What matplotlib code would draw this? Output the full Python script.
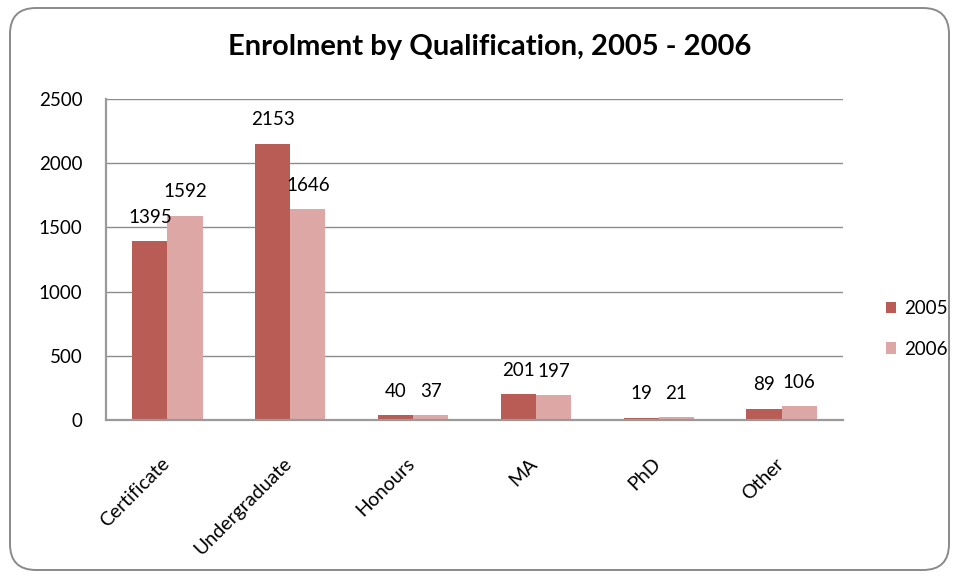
import matplotlib
matplotlib.use("Agg")
import matplotlib.pyplot as plt
import matplotlib.transforms as mtransforms
from matplotlib.patches import FancyBboxPatch
import numpy as np

plt.rcParams['font.family'] = ['Lato', 'DejaVu Sans']

categories = ["Certificate", "Undergraduate", "Honours", "MA", "PhD", "Other"]
years = ["2005", "2006"]
enrol_2005 = [1395, 2153, 40, 201, 19, 89]
enrol_2006 = [1592, 1646, 37, 197, 21, 106]
yticks = [0, 500, 1000, 1500, 2000, 2500]

color_2005 = "#BA5C56"
color_2006 = "#DCA7A4"
grid_color = "#8C8C8C"

W, H = 959, 578
fig = plt.figure(figsize=(W / 100, H / 100), dpi=100)

# rounded chart frame, in pixel coordinates
frame = FancyBboxPatch((10, 8), 939, 562, boxstyle="round,pad=0,rounding_size=26",
                       transform=mtransforms.IdentityTransform(),
                       facecolor="none", edgecolor="#8A8A8A", linewidth=1.4, zorder=10)
fig.patches.append(frame)

left, right, bottom, top = 106, 843, 420, 99
ax = fig.add_axes([left / W, (H - bottom) / H, (right - left) / W, (bottom - top) / H])
ax.set_facecolor("none")

x = np.arange(len(categories))
bw = 1 / 3.5
b1 = ax.bar(x - bw / 2, enrol_2005, width=bw, color=color_2005, label=years[0], zorder=3)
b2 = ax.bar(x + bw / 2, enrol_2006, width=bw, color=color_2006, label=years[1], zorder=3)

ax.set_xlim(-0.5, len(categories) - 0.5)
ax.set_ylim(0, 2500)
ax.set_yticks(yticks)
ax.set_yticklabels([str(t) for t in yticks], fontsize=13.5)
ax.tick_params(axis="y", length=0, pad=17)
ax.set_xticks([])

ax.grid(axis="y", color=grid_color, linewidth=1.0, zorder=1)
ax.set_axisbelow(True)
for s in ["top", "right"]:
    ax.spines[s].set_visible(False)
for s in ["left", "bottom"]:
    ax.spines[s].set_color("#9A9A9A")
    ax.spines[s].set_linewidth(1.6)
    ax.spines[s].set_zorder(4)

# value labels above each bar
for bars, vals in ((b1, enrol_2005), (b2, enrol_2006)):
    for rect, v in zip(bars, vals):
        ax.annotate(str(v), (rect.get_x() + rect.get_width() / 2, v),
                    xytext=(0, 17), textcoords="offset points",
                    ha="center", va="center", fontsize=13.5, zorder=5)

# rotated category labels
trans = mtransforms.blended_transform_factory(ax.transData, ax.transAxes)
offset = mtransforms.ScaledTranslation(-1 / 100, -41 / 100, fig.dpi_scale_trans)
for xi, name in zip(x, categories):
    ax.text(xi, 0, name, transform=trans + offset, rotation=45,
            rotation_mode="anchor", ha="right", va="center", fontsize=14)

fig.text(490 / W, 1 - 47 / H, "Enrolment by Qualification, 2005 - 2006",
         ha="center", va="center", fontsize=21, fontweight="bold")

# legend
leg = fig.legend(handles=[b1, b2], labels=years, loc="center left",
                 bbox_to_anchor=(878 / W, 1 - 329 / H), frameon=False,
                 fontsize=13.5, handlelength=0.55, handleheight=0.55,
                 handletextpad=0.45, labelspacing=1.25, borderaxespad=0)

fig.savefig("out.png", dpi=100, facecolor="white")
